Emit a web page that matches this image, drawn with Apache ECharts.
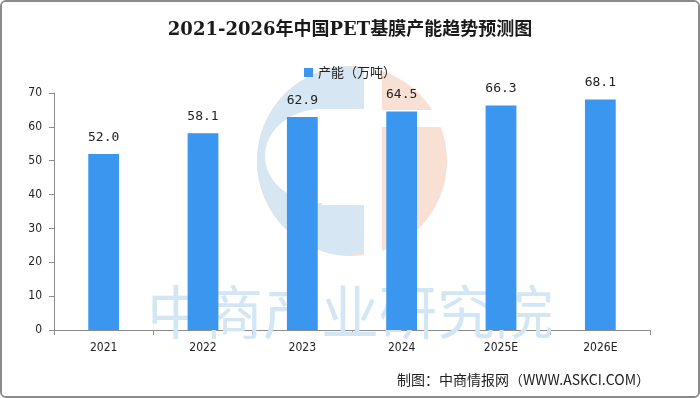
<!DOCTYPE html>
<html>
<head>
<meta charset="utf-8">
<script src="https://cdn.jsdelivr.net/npm/echarts@6/dist/echarts.min.js"></script>
<style>
    html, body { margin: 0; padding: 0; background: #fff; }
    #chart {
        width: 700px;
        height: 398px;
        box-sizing: border-box;
        border: 2px solid #8a8a8a;
        border-radius: 6px;
        overflow: hidden;
    }
</style>
</head>
<body>
<div id="chart"></div>
<script>
// data
const years = ["2021", "2022", "2023", "2024", "2025E", "2026E"]
const capacity = [52.0, 58.1, 62.9, 64.5, 66.3, 68.1]
const seriesName = "产能（万吨）"
const titleText = "2021-2026年中国PET基膜产能趋势预测图"
const sourceText = "制图：中商情报网（WWW.ASKCI.COM）"
const watermarkText = "中商产业研究院"

const myChart = echarts.init(document.getElementById("chart"), null, { renderer: "canvas" })

const logoBlue = "#d6e6f2"
const logoPeach = "#f8e0d4"

const option = {
    backgroundColor: "#fff",
    animation: false,
    title: {
        text: titleText,
        left: "center",
        top: 14,
        textStyle: {
            fontFamily: "'DejaVu Serif', 'Noto Sans CJK SC', serif",
            fontSize: 18,
            fontWeight: "bold",
            color: "#1a1a1a",
        },
    },
    legend: {
        top: 59,
        left: "center",
        itemWidth: 9,
        itemHeight: 9,
        itemGap: 6,
        textStyle: {
            fontFamily: "'Noto Sans CJK SC', sans-serif",
            fontSize: 13,
            color: "#222",
        },
        data: [{ name: seriesName, icon: "rect" }],
    },
    grid: {
        left: 52,
        right: 48,
        top: 91,
        bottom: 66,
        containLabel: false,
    },
    // watermark logo + text
    graphic: [
        {
            type: "circle",
            z: 0,
            shape: { cx: 350, cy: 159, r: 95 },
            style: { fill: logoPeach },
        },
        {
            type: "sector",
            z: 0,
            shape: { cx: 350, cy: 159, r0: 0, r: 95, startAngle: Math.PI / 2, endAngle: Math.PI * 1.5 },
            style: { fill: logoBlue },
        },
        {
            type: "rect",
            z: 0,
            shape: { x: 349, y: 66, width: 13, height: 186 },
            style: { fill: logoBlue },
        },
        {
            type: "rect",
            z: 0,
            shape: { x: 362, y: 55, width: 18, height: 210 },
            style: { fill: "#fff" },
        },
        {
            type: "ellipse",
            z: 0,
            shape: { cx: 320, cy: 154, rx: 57, ry: 47 },
            style: { fill: "#fff" },
        },
        {
            type: "rect",
            z: 0,
            shape: { x: 320, y: 107, width: 42, height: 96 },
            style: { fill: "#fff" },
        },
        {
            type: "rect",
            z: 0,
            shape: { x: 380, y: 108, width: 80, height: 17 },
            style: { fill: "#fff" },
        },
        {
            type: "text",
            z: 1,
            left: "center",
            top: 281,
            style: {
                text: watermarkText,
                fontFamily: "'Noto Sans CJK SC', sans-serif",
                fontSize: 58,
                fill: "#d3e6f4",
            },
        },
        {
            type: "text",
            z: 5,
            right: 48,
            top: 371,
            style: {
                text: sourceText,
                fontFamily: "'Noto Sans CJK SC', 'DejaVu Sans Mono', sans-serif",
                fontSize: 14,
                fill: "#222",
            },
        },
    ],
    xAxis: {
        type: "category",
        data: years,
        axisLine: { lineStyle: { color: "#8c8c8c", width: 1 } },
        axisTick: { show: true, length: 5, alignWithLabel: false, lineStyle: { color: "#8c8c8c" } },
        axisLabel: {
            color: "#222",
            fontSize: 12,
            margin: 12,
            fontFamily: "'Liberation Sans Narrow', 'DejaVu Sans Condensed', sans-serif",
        },
    },
    yAxis: {
        type: "value",
        min: 0,
        max: 70,
        interval: 10,
        axisLine: { show: true, lineStyle: { color: "#8c8c8c", width: 1 } },
        axisTick: { show: true, length: 5, lineStyle: { color: "#8c8c8c" } },
        splitLine: { show: false },
        axisLabel: {
            color: "#222",
            fontSize: 12,
            margin: 12,
            fontFamily: "'Liberation Sans Narrow', 'DejaVu Sans Condensed', sans-serif",
        },
    },
    series: [
        {
            name: seriesName,
            type: "bar",
            data: capacity,
            barWidth: "31%",
            z: 3,
            itemStyle: { color: "#3a96ee" },
            label: {
                show: true,
                position: "top",
                distance: 10,
                color: "#222",
                fontSize: 13,
                fontFamily: "'DejaVu Sans Mono', monospace",
                formatter: p => p.value.toFixed(1),
            },
        },
    ],
}

myChart.setOption(option, true)
</script>
</body>
</html>
